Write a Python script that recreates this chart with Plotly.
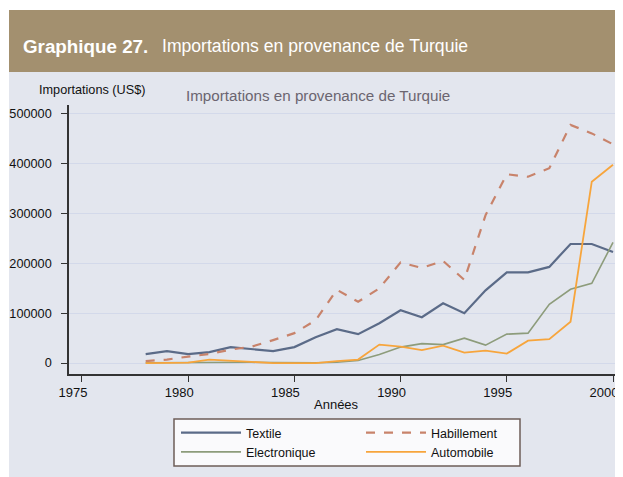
import plotly.graph_objects as go

years = list(range(1978, 2001))
textile = [18000, 24000, 18000, 22000, 32000, 28000, 24000, 32000, 52000, 68000, 58000, 80000,
           106000, 92000, 120000, 100000, 146000, 182000, 182000, 193000, 239000, 239000, 223000]
habillement = [4000, 7000, 13000, 18000, 27000, 33000, 46000, 60000, 86000, 147000, 123000, 150000,
               202000, 191000, 205000, 167000, 297000, 379000, 374000, 391000, 478000, 461000, 439000]
electronique = [500, 1000, 1500, 2000, 2000, 1500, 1000, 500, 500, 1500, 5000, 17000,
                32000, 39000, 37000, 50000, 36000, 58000, 60000, 118000, 148000, 160000, 242000]
automobile = [0, 0, 1000, 7000, 5000, 2000, 0, 0, 0, 4000, 7000, 37000,
              33000, 26000, 35000, 21000, 25000, 19000, 45000, 48000, 83000, 364000, 398000]

x_ticks = [1975, 1980, 1985, 1990, 1995, 2000]
y_ticks = [0, 100000, 200000, 300000, 400000, 500000]

# page body adds an 8px margin; figure drawn at (8, 8)
OFF = 8
W, H = 623 - OFF, 477 - OFF
L, R, T = 69 - OFF, 0, 105 - OFF
B = H - (374 - OFF)
pw, ph = W - L - R, H - T - B

def px(xp):
    return (xp - OFF - L) / pw

def py(yp):
    return (H - B - (yp - OFF)) / ph

fig = go.Figure()
fig.add_trace(go.Scatter(x=years, y=textile, name="Textile", mode="lines",
                         line=dict(color="#5b6b88", width=2.2), legend="legend"))
fig.add_trace(go.Scatter(x=years, y=habillement, name="Habillement", mode="lines",
                         line=dict(color="#c8836b", width=2.2, dash="dash"), legend="legend2"))
fig.add_trace(go.Scatter(x=years, y=electronique, name="Electronique", mode="lines",
                         line=dict(color="#8d9c7b", width=1.6), legend="legend"))
fig.add_trace(go.Scatter(x=years, y=automobile, name="Automobile", mode="lines",
                         line=dict(color="#f7a53c", width=1.8), legend="legend2"))

font = "Liberation Sans, Arial, sans-serif"

shapes = [
    dict(type="rect", xref="paper", yref="paper", x0=px(9), x1=px(640), y0=py(10), y1=py(72),
         fillcolor="#a3906f", line=dict(width=0), layer="below"),
    dict(type="rect", xref="paper", yref="paper", x0=px(9), x1=px(640), y0=py(72), y1=py(490),
         fillcolor="#e3e6ee", line=dict(width=0), layer="below"),
    dict(type="rect", xref="paper", yref="paper", x0=px(174), x1=px(520), y0=py(419), y1=py(466),
         fillcolor="#fafafc", line=dict(color="#6e5d58", width=1.5), layer="below"),
]

annotations = [
    dict(text="<b>Graphique 27.</b>", xref="paper", yref="paper", x=px(21), y=py(46),
         xanchor="left", yanchor="middle", showarrow=False,
         font=dict(family=font, size=18.8, color="white")),
    dict(text="Importations en provenance de Turquie", xref="paper", yref="paper", x=px(160), y=py(46),
         xanchor="left", yanchor="middle", showarrow=False,
         font=dict(family=font, size=17.6, color="white")),
    dict(text="Importations (US$)", xref="paper", yref="paper", x=px(37), y=py(90),
         xanchor="left", yanchor="middle", showarrow=False,
         font=dict(family=font, size=12.7, color="#111111")),
    dict(text="Importations en provenance de Turquie", xref="paper", yref="paper", x=px(184), y=py(95),
         xanchor="left", yanchor="middle", showarrow=False,
         font=dict(family=font, size=15.2, color="#6b6570")),
    dict(text="Années", xref="paper", yref="paper", x=px(312), y=py(404),
         xanchor="left", yanchor="middle", showarrow=False,
         font=dict(family=font, size=13, color="#111111")),
]

legend_common = dict(orientation="v", xanchor="left", yanchor="top", bgcolor="rgba(0,0,0,0)",
                     borderwidth=0, font=dict(family=font, size=12.5, color="#111111"),
                     tracegroupgap=0, itemwidth=60)

fig.update_layout(
    width=W, height=H,
    margin=dict(l=L, r=R, t=T, b=B, autoexpand=False),
    paper_bgcolor="white",
    plot_bgcolor="#f9f9fc",
    showlegend=True,
    legend=dict(x=px(176), y=py(418), **legend_common),
    legend2=dict(x=px(361), y=py(418), **legend_common),
    shapes=shapes,
    annotations=annotations,
    xaxis=dict(range=[1974.39, 2000.47], tickvals=x_ticks, ticks="outside", ticklen=6,
               tickcolor="#333333", showline=True, linecolor="#333333", linewidth=1.5,
               showgrid=False, zeroline=False, ticklabelshift=-9, automargin=False,
               tickfont=dict(family=font, size=13, color="#111111")),
    yaxis=dict(range=[-22000, 518000], tickvals=y_ticks, tickformat="d", ticks="outside", ticklen=6,
               tickcolor="#333333", showline=True, linecolor="#333333", linewidth=1.5,
               showgrid=True, gridcolor="#d3d9ea", gridwidth=1, zeroline=False,
               ticklabelstandoff=7, automargin=False,
               tickfont=dict(family=font, size=12.7, color="#111111"),
               minor=dict(tick0=-10000, dtick=100000 / 3, showgrid=True, gridcolor="#e3e6ef",
                          griddash="dot", gridwidth=2, ticks="")),
)

fig.write_html("out.html")
